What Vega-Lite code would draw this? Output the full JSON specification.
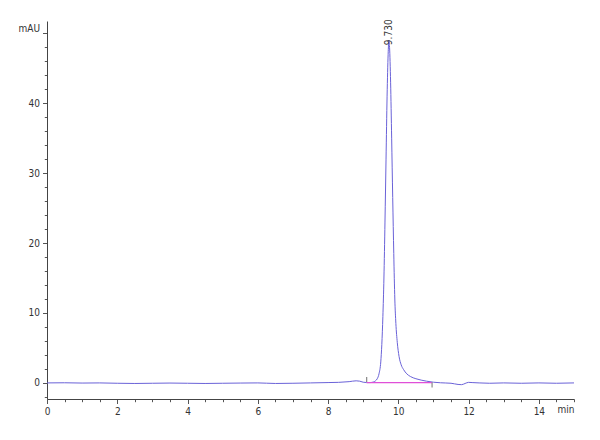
{
  "$schema": "https://vega.github.io/schema/vega-lite/v6.json",
  "width": 527,
  "height": 378,
  "autosize": "none",
  "padding": {"left": 47, "top": 21, "right": 26, "bottom": 41},
  "background": "white",
  "datasets": {
    "trace": [
      {"t": 0, "mAU": 0}, {"t": 0.5, "mAU": 0.02}, {"t": 1, "mAU": -0.02}, {"t": 1.5, "mAU": 0},
      {"t": 2, "mAU": -0.05}, {"t": 2.5, "mAU": -0.08}, {"t": 3, "mAU": -0.05}, {"t": 3.5, "mAU": -0.02},
      {"t": 4, "mAU": -0.05}, {"t": 4.5, "mAU": -0.08}, {"t": 5, "mAU": -0.05}, {"t": 5.5, "mAU": -0.02},
      {"t": 6, "mAU": 0}, {"t": 6.5, "mAU": -0.08}, {"t": 7, "mAU": -0.05}, {"t": 7.5, "mAU": 0},
      {"t": 8, "mAU": 0.05}, {"t": 8.3, "mAU": 0.08}, {"t": 8.6, "mAU": 0.18}, {"t": 8.8, "mAU": 0.3},
      {"t": 8.9, "mAU": 0.25}, {"t": 9.0, "mAU": 0.1}, {"t": 9.1, "mAU": 0.05}, {"t": 9.2, "mAU": 0.05},
      {"t": 9.3, "mAU": 0.15}, {"t": 9.35, "mAU": 0.3}, {"t": 9.4, "mAU": 0.6}, {"t": 9.45, "mAU": 1.3},
      {"t": 9.5, "mAU": 3.0}, {"t": 9.53, "mAU": 5.5}, {"t": 9.56, "mAU": 9.5}, {"t": 9.59, "mAU": 15},
      {"t": 9.62, "mAU": 23}, {"t": 9.65, "mAU": 32}, {"t": 9.68, "mAU": 41}, {"t": 9.71, "mAU": 47},
      {"t": 9.73, "mAU": 49}, {"t": 9.75, "mAU": 48}, {"t": 9.78, "mAU": 43}, {"t": 9.81, "mAU": 35},
      {"t": 9.84, "mAU": 26.5}, {"t": 9.87, "mAU": 18.5}, {"t": 9.9, "mAU": 12}, {"t": 9.93, "mAU": 8.5},
      {"t": 9.97, "mAU": 5.8}, {"t": 10.02, "mAU": 3.8}, {"t": 10.08, "mAU": 2.6}, {"t": 10.15, "mAU": 1.9},
      {"t": 10.24, "mAU": 1.3}, {"t": 10.35, "mAU": 0.9}, {"t": 10.5, "mAU": 0.6}, {"t": 10.65, "mAU": 0.4},
      {"t": 10.8, "mAU": 0.25}, {"t": 11.0, "mAU": 0.1}, {"t": 11.2, "mAU": 0.02}, {"t": 11.5, "mAU": -0.05},
      {"t": 11.7, "mAU": -0.22}, {"t": 11.8, "mAU": -0.25}, {"t": 11.9, "mAU": -0.08}, {"t": 12.0, "mAU": 0.08},
      {"t": 12.1, "mAU": 0.05}, {"t": 12.3, "mAU": 0}, {"t": 12.6, "mAU": -0.05}, {"t": 13, "mAU": 0},
      {"t": 13.5, "mAU": -0.05}, {"t": 14, "mAU": 0}, {"t": 14.5, "mAU": -0.05}, {"t": 15, "mAU": 0}
    ],
    "baseline": [{"t": 9.1, "mAU": 0.05}, {"t": 10.95, "mAU": 0.05}],
    "marks": [{"t": 9.1, "mAU": 0.5}, {"t": 10.96, "mAU": -0.3}],
    "peaks": [{"t": 9.73, "mAU": 48.3, "label": "9.730"}]
  },
  "encoding": {
    "x": {
      "field": "t", "type": "quantitative",
      "scale": {"domain": [0, 15], "nice": false, "zero": false},
      "axis": {
        "title": null, "grid": false, "format": "~g",
        "values": [0, 0.5, 1, 1.5, 2, 2.5, 3, 3.5, 4, 4.5, 5, 5.5, 6, 6.5, 7, 7.5, 8, 8.5, 9, 9.5, 10, 10.5, 11, 11.5, 12, 12.5, 13, 13.5, 14, 14.5, 15],
        "labelExpr": "datum.value == 15 ? 'min' : (datum.value % 2 == 0 ? datum.label : '')",
        "labelAlign": {"condition": {"test": "datum.value == 15", "value": "right"}, "value": "center"},
        "labelFlush": false, "labelOverlap": false,
        "tickSize": {"condition": {"test": "datum.value % 2 == 0", "value": 4.5}, "value": 2.7},
        "labelPadding": 3,
        "domainColor": "#444", "tickColor": "#555", "labelColor": "#333",
        "labelFont": "Liberation Sans Narrow, DejaVu Sans Condensed, sans-serif", "labelFontSize": 10
      }
    },
    "y": {
      "field": "mAU", "type": "quantitative",
      "scale": {"domain": [-2.3, 51.75], "nice": false, "zero": false},
      "axis": {
        "title": null, "grid": false, "format": "~g",
        "values": [-2, 0, 2, 4, 6, 8, 10, 12, 14, 16, 18, 20, 22, 24, 26, 28, 30, 32, 34, 36, 38, 40, 42, 44, 46, 48, 50],
        "labelExpr": "datum.value == 50 ? 'mAU' : (datum.value % 10 == 0 ? datum.label : '')",
        "labelBaseline": {"condition": {"test": "datum.value == 50", "value": "bottom"}, "value": "middle"},
        "labelFlush": false, "labelOverlap": false,
        "tickSize": {"condition": {"test": "datum.value % 10 == 0", "value": 4.5}, "value": 2.7},
        "labelPadding": 3,
        "domainColor": "#444", "tickColor": "#555", "labelColor": "#333",
        "labelFont": "Liberation Sans Narrow, DejaVu Sans Condensed, sans-serif", "labelFontSize": 10
      }
    }
  },
  "layer": [
    {
      "data": {"name": "trace"},
      "mark": {"type": "line", "color": "#6a62d8", "strokeWidth": 1, "interpolate": "monotone"}
    },
    {
      "data": {"name": "baseline"},
      "mark": {"type": "line", "color": "#e04fd8", "strokeWidth": 1.2}
    },
    {
      "data": {"name": "marks"},
      "mark": {"type": "tick", "orient": "vertical", "size": 5, "thickness": 1, "color": "#333"}
    },
    {
      "data": {"name": "peaks"},
      "mark": {
        "type": "text", "angle": 270, "align": "left", "baseline": "middle",
        "font": "Liberation Sans Narrow, DejaVu Sans Condensed, sans-serif", "fontSize": 10, "color": "#333"
      },
      "encoding": {"text": {"field": "label"}}
    }
  ],
  "config": {"view": {"stroke": null}}
}
